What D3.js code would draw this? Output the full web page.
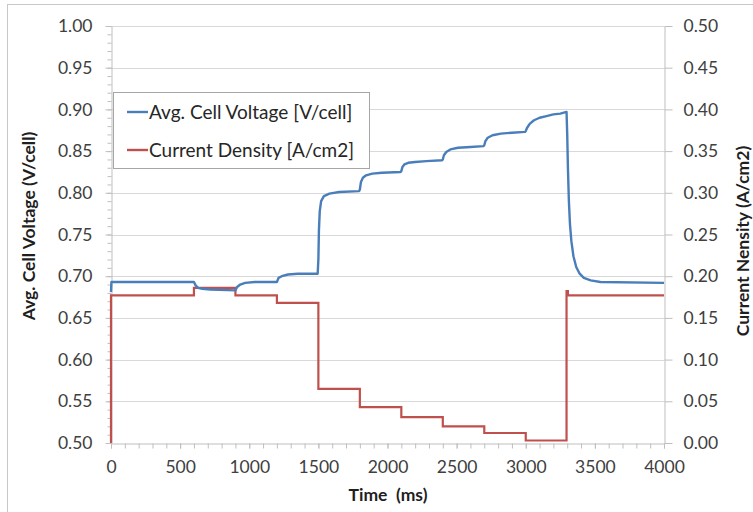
<!DOCTYPE html>
<html>
<head>
  <meta charset="utf-8">
  <title>Avg. Cell Voltage and Current Density</title>
  <script src="https://d3js.org/d3.v7.min.js"></script>
  <style>
    body {
      margin: 0;
      background-color: white;
    }

    svg text {
      font-family: Lato, 'Open Sans', sans-serif;
    }

    .axis .tick text {
      fill: #404040;
      font-size: 17.5px;
    }

    .axis path,
    .axis line {
      stroke: #bfbfbf;
    }

    .grid line {
      stroke: #d9d9d9;
    }

    .axis-title {
      font-weight: bold;
      fill: #1f1f1f;
      font-size: 17.5px;
    }

    .legend-text {
      fill: #262626;
      font-size: 19px;
    }
  </style>
</head>
<body>
  <svg id="chart"></svg>

  <script>
    // axis ticks
    const timeTicks = [0, 500, 1000, 1500, 2000, 2500, 3000, 3500, 4000];
    const voltTicks = [0.50, 0.55, 0.60, 0.65, 0.70, 0.75, 0.80, 0.85, 0.90, 0.95, 1.00];
    const currTicks = [0.00, 0.05, 0.10, 0.15, 0.20, 0.25, 0.30, 0.35, 0.40, 0.45, 0.50];

    // Avg. cell voltage [V/cell]
    const voltTime = [0, 3, 600, 612, 630, 660, 720, 900, 912, 935, 970, 1040, 1200, 1212, 1235, 1280, 1350, 1495,
      1500, 1504, 1510, 1520, 1540, 1580, 1650, 1795, 1800, 1808, 1822, 1845, 1890, 1960, 2095,
      2100, 2108, 2122, 2150, 2200, 2280, 2395, 2400, 2408, 2425, 2455, 2510, 2600, 2695,
      2700, 2708, 2725, 2760, 2820, 2900, 2995, 3000, 3010, 3030, 3060, 3100, 3150, 3200, 3250, 3295,
      3300, 3305, 3312, 3320, 3330, 3345, 3365, 3390, 3420, 3470, 3540, 4000];
    const voltValue = [0.681, 0.693, 0.693, 0.689, 0.686, 0.685, 0.684, 0.683, 0.687, 0.690, 0.692, 0.693, 0.693, 0.698, 0.700, 0.702, 0.703, 0.703,
      0.720, 0.755, 0.778, 0.790, 0.796, 0.799, 0.801, 0.802, 0.804, 0.813, 0.818, 0.821, 0.823, 0.824, 0.825,
      0.826, 0.831, 0.834, 0.836, 0.837, 0.838, 0.839, 0.840, 0.845, 0.849, 0.852, 0.854, 0.855, 0.856,
      0.857, 0.862, 0.866, 0.869, 0.871, 0.872, 0.873, 0.874, 0.878, 0.883, 0.887, 0.890, 0.892, 0.894, 0.895, 0.897,
      0.870, 0.830, 0.790, 0.762, 0.742, 0.724, 0.711, 0.703, 0.698, 0.695, 0.693, 0.692];

    // Current density [A/cm2], step changes
    const currTime = [0, 0, 600, 900, 1200, 1500, 1800, 2100, 2400, 2700, 3000, 3295, 3305, 4000];
    const currValue = [0.000, 0.177, 0.186, 0.177, 0.168, 0.065, 0.043, 0.031, 0.020, 0.012, 0.003, 0.182, 0.177, 0.177];

    const width = 753;
    const height = 512;
    const plot = { left: 111, right: 664, top: 26, bottom: 443 };

    const svg = d3.select("#chart").attr("width", width).attr("height", height);

    // chart area border
    svg.append("rect")
      .attr("x", 7.5).attr("y", 4.5)
      .attr("width", 800).attr("height", 600)
      .attr("fill", "white")
      .attr("stroke", "#c8c8c8");

    const x = d3.scaleLinear().domain([0, 4000]).range([plot.left, plot.right]);
    const yV = d3.scaleLinear().domain([0.5, 1.0]).range([plot.bottom, plot.top]);
    const yC = d3.scaleLinear().domain([0, 0.5]).range([plot.bottom, plot.top]);

    // horizontal gridlines
    svg.append("g")
      .attr("class", "grid")
      .selectAll("line")
      .data(voltTicks.slice(1))
      .enter().append("line")
      .attr("x1", plot.left).attr("x2", plot.right)
      .attr("y1", d => Math.round(yV(d)) + 0.5)
      .attr("y2", d => Math.round(yV(d)) + 0.5);

    // left axis, minor ticks first
    svg.append("g")
      .attr("class", "axis")
      .attr("transform", `translate(${plot.left + 0.5},0)`)
      .call(d3.axisLeft(yV).tickValues(d3.range(0.5, 1.0001, 0.01)).tickSize(4).tickFormat(""))
      .call(g => g.select(".domain").remove());

    svg.append("g")
      .attr("class", "axis")
      .attr("transform", `translate(${plot.left + 0.5},0)`)
      .call(d3.axisLeft(yV).tickValues(voltTicks).tickSize(6).tickSizeOuter(0).tickPadding(13).tickFormat(d3.format(".2f")));

    // right axis
    svg.append("g")
      .attr("class", "axis")
      .attr("transform", `translate(${plot.right + 0.5},0)`)
      .call(d3.axisRight(yC).tickValues(currTicks).tickSize(8).tickSizeOuter(0).tickPadding(11).tickFormat(d3.format(".2f")));

    // bottom axis, minor ticks every 100 ms
    svg.append("g")
      .attr("class", "axis")
      .attr("transform", `translate(0,${plot.bottom + 0.5})`)
      .call(d3.axisBottom(x).tickValues(d3.range(0, 4001, 100)).tickSize(5).tickFormat(""))
      .call(g => g.select(".domain").remove());

    svg.append("g")
      .attr("class", "axis")
      .attr("transform", `translate(0,${plot.bottom + 0.5})`)
      .call(d3.axisBottom(x).tickValues(timeTicks).tickSize(5).tickSizeOuter(0).tickPadding(12).tickFormat(d3.format("d")));

    // series
    const voltLine = d3.line()
      .x((d, i) => x(voltTime[i]))
      .y(d => yV(d));

    const currLine = d3.line()
      .x((d, i) => x(currTime[i]))
      .y(d => yC(d))
      .curve(d3.curveStepAfter);

    svg.append("path")
      .datum(currValue)
      .attr("d", currLine)
      .attr("fill", "none")
      .attr("stroke", "#c0504d")
      .attr("stroke-width", 2.2);

    svg.append("path")
      .datum(voltValue)
      .attr("d", voltLine)
      .attr("fill", "none")
      .attr("stroke", "#4a7ebb")
      .attr("stroke-width", 2.4)
      .attr("stroke-linejoin", "round");

    // axis titles
    svg.append("text")
      .attr("class", "axis-title")
      .attr("transform", "translate(35,226) rotate(-90)")
      .attr("text-anchor", "middle")
      .text("Avg. Cell Voltage (V/cell)");

    svg.append("text")
      .attr("class", "axis-title")
      .attr("transform", "translate(749,241) rotate(-90)")
      .attr("text-anchor", "middle")
      .text("Current Nensity (A/cm2)");

    svg.append("text")
      .attr("class", "axis-title")
      .attr("x", 388).attr("y", 501)
      .attr("text-anchor", "middle")
      .attr("xml:space", "preserve")
      .text("Time  (ms)");

    // legend
    const legendItems = [
      { name: "Avg. Cell Voltage [V/cell]", color: "#4a7ebb" },
      { name: "Current Density [A/cm2]", color: "#c0504d" }
    ];

    const legend = svg.append("g").attr("transform", "translate(113,92)");
    legend.append("rect")
      .attr("x", 0.5).attr("y", 0.5)
      .attr("width", 256).attr("height", 76)
      .attr("fill", "white")
      .attr("stroke", "#a6a6a6");

    const item = legend.selectAll(".item")
      .data(legendItems)
      .enter().append("g")
      .attr("class", "item")
      .attr("transform", (d, i) => `translate(0,${20 + i * 38})`);

    item.append("line")
      .attr("x1", 14).attr("x2", 35)
      .attr("stroke", d => d.color)
      .attr("stroke-width", 2.4);

    item.append("text")
      .attr("class", "legend-text")
      .attr("x", 36).attr("y", 7)
      .text(d => d.name);
  </script>
</body>
</html>
